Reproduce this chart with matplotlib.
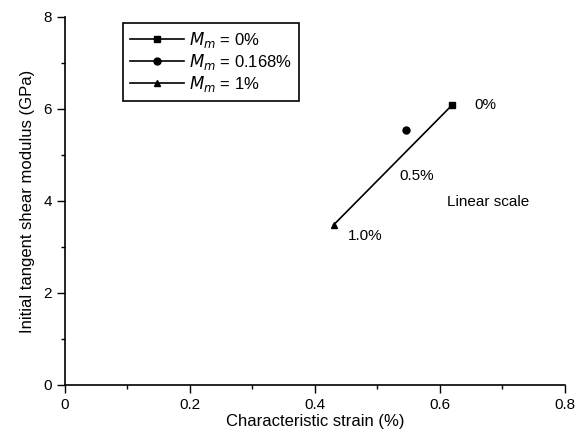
import matplotlib.pyplot as plt
from matplotlib.ticker import MultipleLocator

plt.rcParams['font.family'] = ['Liberation Sans', 'DejaVu Sans']

# data
labels = ['$M_m$ = 0%', '$M_m$ = 0.168%', '$M_m$ = 1%']
markers = ['s', 'o', '^']
strain = [0.62, 0.546, 0.43]
modulus = [6.09, 5.54, 3.48]

# linear scale line between 1.0% and 0%
line_x = [0.43, 0.62]
line_y = [3.48, 6.09]

fig = plt.figure(figsize=(5.8, 4.43), dpi=100)
ax = fig.add_axes([0.112, 0.131, 0.862, 0.831])

ax.plot(line_x, line_y, color='black', lw=1.2)
for xi, yi, m, lab in zip(strain, modulus, markers, labels):
    ax.plot([xi], [yi], marker=m, color='black', ms=5, ls='-', lw=1.2, label=lab)

# annotations
ax.text(0.655, 6.09, '0%', fontsize=11, va='center', ha='left')
ax.text(0.535, 4.55, '0.5%', fontsize=11, va='center', ha='left')
ax.text(0.612, 3.97, 'Linear scale', fontsize=11, va='center', ha='left')
ax.text(0.452, 3.23, '1.0%', fontsize=11, va='center', ha='left')

ax.set_xlim(0, 0.8)
ax.set_ylim(0, 8)
ax.xaxis.set_minor_locator(MultipleLocator(0.1))
ax.yaxis.set_major_locator(MultipleLocator(2))
ax.yaxis.set_minor_locator(MultipleLocator(1))
ax.set_xticks([0, 0.2, 0.4, 0.6, 0.8])
ax.set_xticklabels(['0', '0.2', '0.4', '0.6', '0.8'])

ax.spines['top'].set_visible(False)
ax.spines['right'].set_visible(False)
ax.spines['left'].set_linewidth(1.2)
ax.spines['bottom'].set_linewidth(1.2)
ax.tick_params(which='major', direction='out', length=6, width=1.0, labelsize=11)
ax.tick_params(which='minor', direction='out', length=3, width=1.0)

ax.set_xlabel('Characteristic strain (%)', fontsize=12, labelpad=1)
ax.set_ylabel('Initial tangent shear modulus (GPa)', fontsize=12, labelpad=6)

leg = ax.legend(loc='upper left', bbox_to_anchor=(0.116, 0.984), fontsize=12,
                fancybox=False, edgecolor='black', framealpha=1,
                handlelength=3.2, handletextpad=0.3, labelspacing=0.1,
                borderpad=0.45, borderaxespad=0)
leg.get_frame().set_linewidth(1.2)

fig.savefig('out.png', dpi=100)
